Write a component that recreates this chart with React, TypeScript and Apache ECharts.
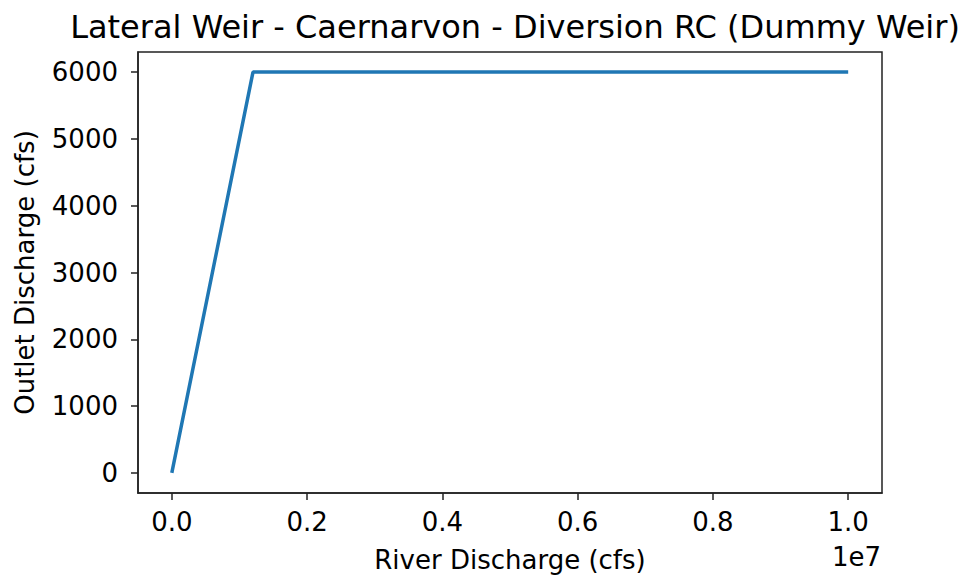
import React, { useEffect, useRef } from "react";
import * as echarts from "echarts";

const riverDischarge = [0, 1200000, 10000000];
const outletDischarge = [0, 6000, 6000];
const xTicks = [0, 2000000, 4000000, 6000000, 8000000, 10000000];
const yTicks = [0, 1000, 2000, 3000, 4000, 5000, 6000];
const titleText = "Lateral Weir - Caernarvon - Diversion RC (Dummy Weir)";
const xLabel = "River Discharge (cfs)";
const yLabel = "Outlet Discharge (cfs)";

export default function App() {
  const ref = useRef<HTMLDivElement>(null);
  useEffect(() => {
    if (!ref.current) return;
    const chart = echarts.init(ref.current, null, { renderer: "svg" });
    const font = "DejaVu Sans";
    chart.setOption({
      animation: false,
      backgroundColor: "#ffffff",
      title: {
        text: titleText,
        left: 510,
        top: 6,
        textAlign: "center",
        textStyle: { fontFamily: font, fontSize: 32, fontWeight: "normal", color: "#000" },
      },
      grid: {
        left: 138,
        right: 77,
        top: 52,
        bottom: 82,
        show: true,
        borderColor: "#222",
        borderWidth: 1.5,
        backgroundColor: "transparent",
      },
      xAxis: {
        type: "value",
        min: -500000,
        max: 10500000,
        splitLine: { show: false },
        axisLine: { show: true, onZero: false, lineStyle: { color: "#222", width: 1.5 } },
        axisTick: { show: true, inside: false, length: 7, lineStyle: { color: "#222", width: 1.5 }, customValues: xTicks },
        axisLabel: {
          customValues: xTicks,
          formatter: (v: number) => (v / 1e7).toFixed(1),
          fontFamily: font,
          fontSize: 26,
          color: "#000",
          margin: 16,
        },
        name: xLabel,
        nameLocation: "middle",
        nameGap: 54,
        nameTextStyle: { fontFamily: font, fontSize: 26, color: "#000" },
      },
      yAxis: {
        type: "value",
        min: -300,
        max: 6300,
        splitLine: { show: false },
        axisLine: { show: true, onZero: false, lineStyle: { color: "#222", width: 1.5 } },
        axisTick: { show: true, inside: false, length: 7, lineStyle: { color: "#222", width: 1.5 }, customValues: yTicks },
        axisLabel: {
          customValues: yTicks,
          formatter: (v: number) => String(v),
          fontFamily: font,
          fontSize: 26,
          color: "#000",
          margin: 20,
        },
        name: yLabel,
        nameLocation: "middle",
        nameGap: 100,
        nameRotate: 90,
        nameTextStyle: { fontFamily: font, fontSize: 26, color: "#000" },
      },
      graphic: [
        {
          type: "text",
          right: 78,
          top: 544,
          style: { text: "1e7", fontFamily: font, fontSize: 26, fill: "#000" },
        },
      ],
      series: [
        {
          type: "line",
          data: riverDischarge.map((x, i) => [x, outletDischarge[i]]),
          showSymbol: false,
          symbol: "none",
          lineStyle: { color: "#1f77b4", width: 3.5 },
        },
      ],
    });
    return () => chart.dispose();
  }, []);
  return <div ref={ref} style={{ width: 959, height: 578, position: "absolute", left: 0, top: 0 }} />;
}
